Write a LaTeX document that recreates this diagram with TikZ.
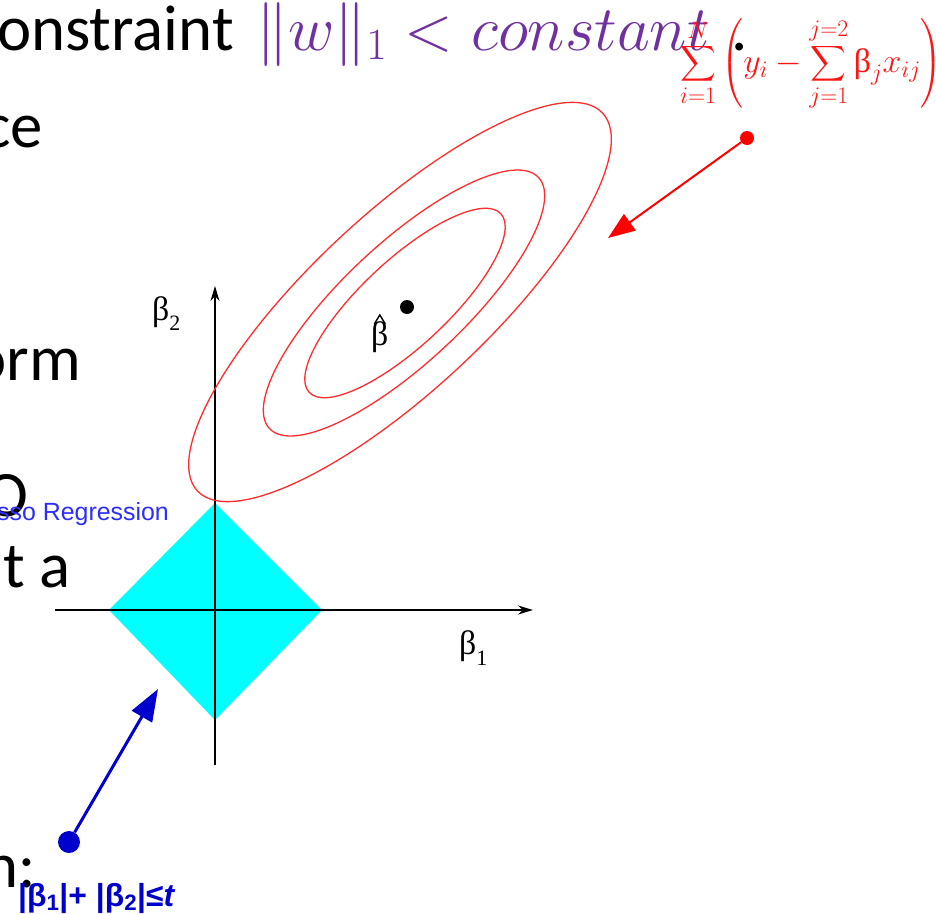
\RequirePackage{fix-cm}
\documentclass[tikz,border=0pt]{standalone}
\usepackage{amsmath}
\usepackage{fontspec}
\setmainfont{Carlito}
\newfontfamily\arialf{Liberation Sans}
\newfontfamily\timesf{Liberation Serif}
\usetikzlibrary{arrows.meta}
\definecolor{slidepurple}{RGB}{112,48,160}
\definecolor{ellred}{RGB}{255,45,45}
\definecolor{fred}{RGB}{255,20,20}
\definecolor{lassoblue}{RGB}{45,45,255}
\definecolor{arrowblue}{RGB}{0,0,205}
\definecolor{diamondcyan}{RGB}{0,255,255}
\tikzset{
  slidetext/.style={inner sep=0pt, anchor=base west, font=\fontsize{65}{70}\selectfont},
  level/.style={draw=ellred, line width=1.3bp},
  axis/.style={draw=black, line width=1.5bp, -{Stealth[length=15bp,width=9bp]}},
  betalabel/.style={inner sep=0pt, anchor=base west, font=\timesf\fontsize{34}{36}\selectfont},
  reddot/.style={circle, fill=red, inner sep=0pt, minimum size=14bp},
  bluedot/.style={circle, fill=arrowblue, inner sep=0pt, minimum size=22bp},
  redarrow/.style={draw=red, line width=2bp, -{Triangle[length=27bp,width=20bp]}},
  bluearrow/.style={draw=arrowblue, line width=3bp, -{Triangle[length=32bp,width=23bp]}}
}
\begin{document}
\begin{tikzpicture}[x=1bp,y=-1bp]
\useasboundingbox (0,0) rectangle (936,914);
\fill[white] (0,0) rectangle (936,914);

% slide text fragments
\node[slidetext] (t1) at (-3,50) {onstraint};
\node[slidetext, text=slidepurple, font=\fontsize{64}{70}\selectfont] (t1m) at (256,50) {$\|w\|_1<constant$};
\node[slidetext] (t1p) at (731,50) {.};
\node[slidetext, anchor=base east] (t2) at (43,147) {ce};
\node[slidetext, anchor=base east] (t3) at (81,380) {orm};
\node[slidetext] (t4) at (-15,516) {O};
\node[slidetext] (t5) at (3,587) {t a};
\node[slidetext] (t6) at (-16,887) {n:};

% lasso region
\fill[diamondcyan] (109,610) -- (215,503) -- (322,610) -- (215,720) -- cycle;

% axes
\coordinate (xstart) at (55,610);
\coordinate (xend) at (533,610);
\coordinate (ystart) at (215,765);
\coordinate (yend) at (215,286);
\draw[axis] (xstart) -- (xend);
\draw[axis] (ystart) -- (yend);

% level sets
\draw[level, rotate around={43:(400,302)}] (400,302) ellipse [x radius=277, y radius=88];
\draw[level, rotate around={43:(404,303)}] (404,303) ellipse [x radius=184, y radius=60];
\draw[level, rotate around={43:(405,303)}] (405,303) ellipse [x radius=131, y radius=43];

% beta hat
\node[circle, fill=black, inner sep=0pt, minimum size=14bp] (bhatdot) at (407,307) {};
\node[betalabel] (bhat) at (371,345) {β};
\draw[line width=1.4bp] ([xshift=-5.5bp, yshift=-3bp]bhat.north) -- ([yshift=6bp]bhat.north) -- ([xshift=5.5bp, yshift=-3bp]bhat.north);

% axis labels
\node[betalabel] (b2) at (152,320) {β\raisebox{-10bp}{\fontsize{22}{22}\selectfont 2}};
\node[betalabel] (b1) at (459,654) {β\raisebox{-11bp}{\fontsize{22}{22}\selectfont 1}};

% lasso label
\node[inner sep=0pt, anchor=base west, text=lassoblue, font=\arialf\fontsize{25}{26}\selectfont] (lasso) at (-3,520) {sso Regression};

% RSS formula
\node[inner sep=0pt, anchor=base west, text=fred, font=\fontsize{34}{40}\selectfont] (rss) at (680,72)
  {$\displaystyle\sum_{i=1}^{N}\left(y_i-\sum_{j=1}^{j=2}\mbox{\timesf β}_j x_{ij}\right)^{\!2}$};

% arrows
\node[reddot] (rdot) at (747,138) {};
\coordinate (rtip) at (608,238);
\draw[redarrow] (rdot) -- (rtip);
\node[bluedot] (bdot) at (69,842) {};
\coordinate (btip) at (158,689);
\draw[bluearrow] (bdot) -- (btip);

% constraint label
\node[inner sep=0pt, anchor=base west, text=arrowblue, font=\arialf\bfseries\fontsize{32}{34}\selectfont] (cons) at (18,906)
  {|β\textsubscript{1}|+ |β\textsubscript{2}|≤\textit{t}};
\end{tikzpicture}
\end{document}
